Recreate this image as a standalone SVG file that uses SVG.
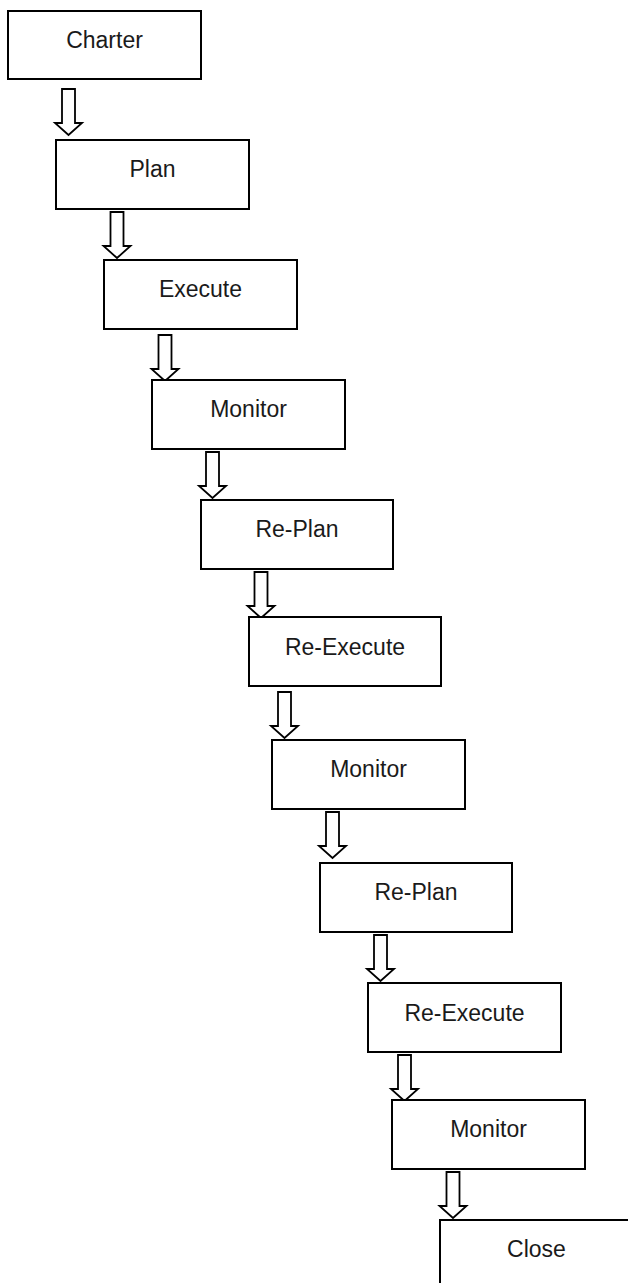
<svg xmlns="http://www.w3.org/2000/svg" xmlns:xlink="http://www.w3.org/1999/xlink" width="628" height="1283" viewBox="0 0 628 1283">
<style>
.box{fill:#fff;stroke:#000;stroke-width:2}
.lbl{font-family:"Liberation Sans",Arial,sans-serif;font-size:23px;fill:#1a1a1a;text-anchor:middle}
.arr{fill:#fff;stroke:#000;stroke-width:1.8;stroke-linejoin:miter}
</style>
<defs>
<path id="arrow" d="M-6.5,0 H6.5 V34 H13.5 L0,46 L-13.5,34 H-6.5 Z"/>
</defs>
<rect width="628" height="1283" fill="#fff"/>
<g id="connectors" class="arr">
<use xlink:href="#arrow" x="68.5" y="89"/>
<use xlink:href="#arrow" x="117" y="212"/>
<use xlink:href="#arrow" x="165" y="335"/>
<use xlink:href="#arrow" x="212.5" y="452"/>
<use xlink:href="#arrow" x="261" y="572"/>
<use xlink:href="#arrow" x="284.5" y="692"/>
<use xlink:href="#arrow" x="332.5" y="812"/>
<use xlink:href="#arrow" x="380.5" y="935"/>
<use xlink:href="#arrow" x="404.5" y="1055"/>
<use xlink:href="#arrow" x="453" y="1172"/>
</g>
<g id="n1"><rect class="box" x="8" y="11" width="193" height="68"/><text class="lbl" x="104.5" y="48">Charter</text></g>
<g id="n2"><rect class="box" x="56" y="140" width="193" height="69"/><text class="lbl" x="152.5" y="177">Plan</text></g>
<g id="n3"><rect class="box" x="104" y="260" width="193" height="69"/><text class="lbl" x="200.5" y="297">Execute</text></g>
<g id="n4"><rect class="box" x="152" y="380" width="193" height="69"/><text class="lbl" x="248.5" y="417">Monitor</text></g>
<g id="n5"><rect class="box" x="201" y="500" width="192" height="69"/><text class="lbl" x="297" y="537">Re-Plan</text></g>
<g id="n6"><rect class="box" x="249" y="617" width="192" height="69"/><text class="lbl" x="345" y="655">Re-Execute</text></g>
<g id="n7"><rect class="box" x="272" y="740" width="193" height="69"/><text class="lbl" x="368.5" y="777">Monitor</text></g>
<g id="n8"><rect class="box" x="320" y="863" width="192" height="69"/><text class="lbl" x="416" y="900">Re-Plan</text></g>
<g id="n9"><rect class="box" x="368" y="983" width="193" height="69"/><text class="lbl" x="464.5" y="1021">Re-Execute</text></g>
<g id="n10"><rect class="box" x="392" y="1100" width="193" height="69"/><text class="lbl" x="488.5" y="1137">Monitor</text></g>
<g id="n11"><rect class="box" x="440" y="1220" width="193" height="69"/><text class="lbl" x="536.5" y="1257">Close</text></g>
</svg>
